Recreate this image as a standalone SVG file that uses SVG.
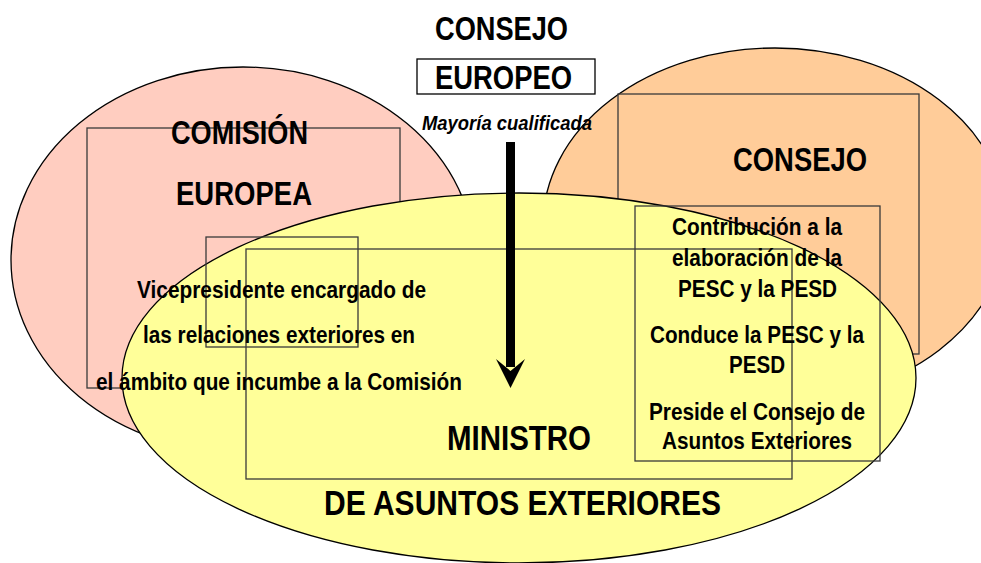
<svg xmlns="http://www.w3.org/2000/svg" width="981" height="563" viewBox="0 0 981 563">
<style>
.ell{stroke:#000;stroke-width:1.3}
.box{fill:none;stroke:#3a3a3a;stroke-width:1.3}
text{font-family:"Liberation Sans Narrow","Arial Narrow","Liberation Sans",Arial,sans-serif;font-weight:bold;fill:#000}
.big{font-size:33px}
.sm{font-size:24px}
.it{font-size:21px;font-style:italic}
</style>
<rect width="981" height="563" fill="#fff"/>
<g id="comision">
<ellipse class="ell" cx="243" cy="260" rx="232" ry="193" fill="#FFCDC0"/>
<rect class="box" x="87" y="128" width="313" height="260"/>
</g>
<g id="consejo">
<ellipse class="ell" cx="775" cy="225" rx="232" ry="177" fill="#FFCC99"/>
<rect class="box" x="618" y="94" width="301" height="260"/>
</g>
<g id="ministro">
<ellipse class="ell" cx="519" cy="378" rx="397" ry="185" fill="#FFFF99"/>
<rect class="box" x="206" y="237" width="152" height="110"/>
<rect class="box" x="246" y="249" width="546" height="230"/>
<rect class="box" x="635" y="206" width="245" height="255"/>
</g>
<g id="consejo-europeo">
<rect x="417" y="59" width="178" height="35" fill="#fff" stroke="#000" stroke-width="1.3"/>
<text class="big" x="435" y="40" textLength="133" lengthAdjust="spacingAndGlyphs">CONSEJO</text>
<text class="big" x="435" y="89" textLength="137" lengthAdjust="spacingAndGlyphs">EUROPEO</text>
<text class="it" x="422" y="130" textLength="170" lengthAdjust="spacingAndGlyphs">Mayoría cualificada</text>
</g>
<g id="comision-text">
<text class="big" x="171" y="144" textLength="137" lengthAdjust="spacingAndGlyphs">COMISIÓN</text>
<text class="big" x="176" y="205" textLength="136" lengthAdjust="spacingAndGlyphs">EUROPEA</text>
<text class="sm" x="137" y="298" textLength="289" lengthAdjust="spacingAndGlyphs">Vicepresidente encargado de</text>
<text class="sm" x="143" y="343" textLength="272" lengthAdjust="spacingAndGlyphs">las relaciones exteriores en</text>
<text class="sm" x="96" y="390" textLength="366" lengthAdjust="spacingAndGlyphs">el ámbito que incumbe a la Comisión</text>
</g>
<g id="consejo-text">
<text class="big" x="733" y="171" textLength="134" lengthAdjust="spacingAndGlyphs">CONSEJO</text>
<text class="sm" x="672" y="235" textLength="170" lengthAdjust="spacingAndGlyphs">Contribución a la</text>
<text class="sm" x="672" y="266" textLength="170" lengthAdjust="spacingAndGlyphs">elaboración de la</text>
<text class="sm" x="678" y="297" textLength="159" lengthAdjust="spacingAndGlyphs">PESC y la PESD</text>
<text class="sm" x="650" y="343" textLength="214" lengthAdjust="spacingAndGlyphs">Conduce la PESC y la</text>
<text class="sm" x="729" y="373" textLength="56" lengthAdjust="spacingAndGlyphs">PESD</text>
<text class="sm" x="649" y="420" textLength="216" lengthAdjust="spacingAndGlyphs">Preside el Consejo de</text>
<text class="sm" x="662" y="449" textLength="190" lengthAdjust="spacingAndGlyphs">Asuntos Exteriores</text>
</g>
<g id="ministro-text">
<text class="big" x="447" y="450" textLength="144" lengthAdjust="spacingAndGlyphs" style="font-size:35px">MINISTRO</text>
<text class="big" x="324" y="515" textLength="397" lengthAdjust="spacingAndGlyphs" style="font-size:35px">DE ASUNTOS EXTERIORES</text>
</g>
<g id="connectors">
<rect x="506" y="142" width="9" height="225" fill="#000"/>
<polygon points="496,359 510.5,388 525,359 510.5,371" fill="#000"/>
</g>
</svg>
